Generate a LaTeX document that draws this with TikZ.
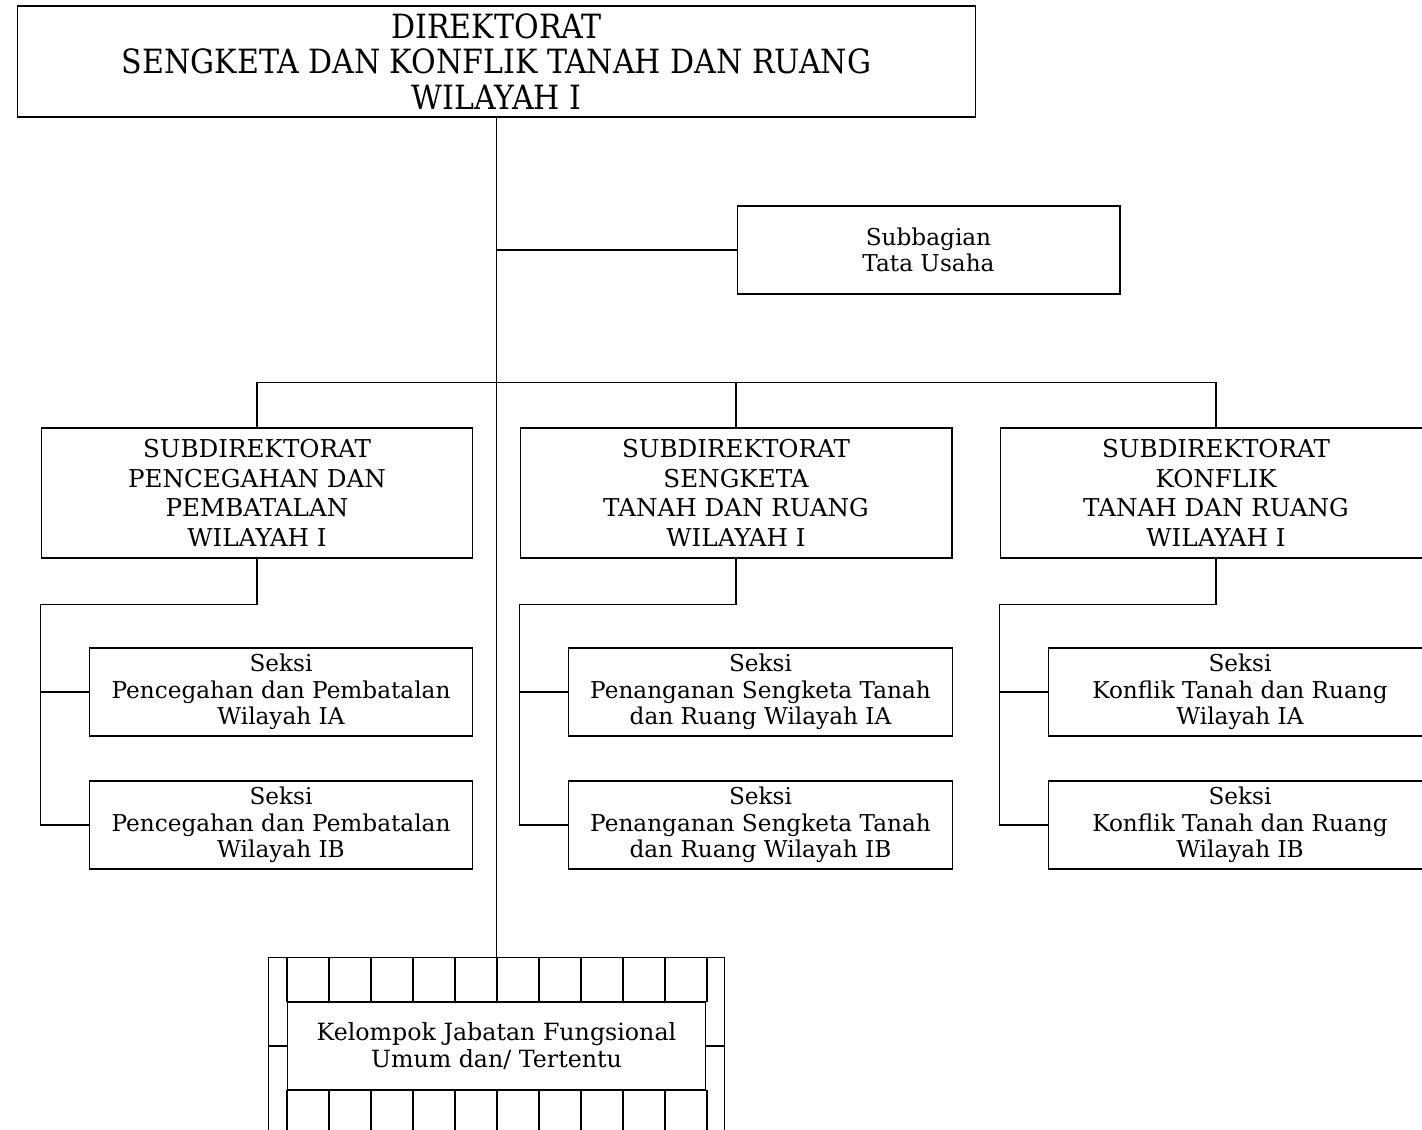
\documentclass[tikz,border=0pt]{standalone}
\usepackage{fontspec}
\setmainfont{DejaVu Serif}
\newfontfamily\judulfont{DejaVu Serif Condensed}

\tikzset{
	kotak/.style={draw, line width=0.6pt, align=center, inner sep=0pt},
	subdir/.style={kotak, minimum width=8.64cm, minimum height=2.6cm, font=\fontsize{14}{16.8}\selectfont},
	seksi/.style={kotak, minimum width=7.68cm, minimum height=1.76cm, font=\fontsize{13.2}{15}\selectfont},
	garis/.style={line width=0.6pt}
}

\begin{document}
\begin{tikzpicture}[x=0.02cm, y=-0.02cm]
		\useasboundingbox (0,0) rectangle (1422,1129);
		% direktorat dan subbagian
		\node[kotak, minimum width=19.18cm, minimum height=2.22cm, font=\judulfont\fontsize{19}{20}\selectfont] (direktorat) at (496.5,61.5) {DIREKTORAT\\SENGKETA DAN KONFLIK TANAH DAN RUANG\\WILAYAH I};
		\node[kotak, minimum width=7.66cm, minimum height=1.76cm, font=\fontsize{13.2}{15}\selectfont] (subbag) at (928.5,250) {Subbagian\\Tata Usaha};
		% kelompok jabatan fungsional dengan bingkai bergaris
		\node[kotak, minimum width=9.12cm, minimum height=3.56cm] (bingkai) at (496.5,1046) {};
		\node[kotak, fill=white, minimum width=8.38cm, minimum height=1.76cm, font=\fontsize{13.5}{15.3}\selectfont] (kelompok) at (496.5,1046) {Kelompok Jabatan Fungsional\\Umum dan/ Tertentu};
		\foreach \k in {0,...,10}{
			\draw[garis] (287+42*\k,957) -- (287+42*\k,1002);
			\draw[garis] (287+42*\k,1090) -- (287+42*\k,1135);
		};
		\draw[garis] (kelompok.west) -- (kelompok.west -| bingkai.west);
		\draw[garis] (kelompok.east) -- (kelompok.east -| bingkai.east);
		\draw[garis] (direktorat.south) -- (bingkai.north);
		\draw[garis] (subbag.west) -- (subbag.west -| direktorat.south);
		% subdirektorat dan seksi
		\foreach \i/\x/\xs/\judul/\sa/\sb in {%
			1/257/281/{SUBDIREKTORAT\\PENCEGAHAN DAN\\PEMBATALAN\\WILAYAH I}/{Seksi\\Pencegahan dan Pembatalan\\Wilayah IA}/{Seksi\\Pencegahan dan Pembatalan\\Wilayah IB},
			2/736/760.5/{SUBDIREKTORAT\\SENGKETA\\TANAH DAN RUANG\\WILAYAH I}/{Seksi\\Penanganan Sengketa Tanah\\dan Ruang Wilayah IA}/{Seksi\\Penanganan Sengketa Tanah\\dan Ruang Wilayah IB},
			3/1216/1240/{SUBDIREKTORAT\\KONFLIK\\TANAH DAN RUANG\\WILAYAH I}/{Seksi\\Konflik Tanah dan Ruang\\Wilayah IA}/{Seksi\\Konflik Tanah dan Ruang\\Wilayah IB}}%
		{
			\node[subdir] (sub\i) at (\x,493) {\judul};
			\node[seksi] (sa\i) at (\xs,692) {\sa};
			\node[seksi] (sb\i) at (\xs,825) {\sb};
			\draw[garis] (sub\i.south) -- ++(0,46) -| (sb\i.west -| sub\i.west) -- (sb\i.west);
			\draw[garis] (sa\i.west) -- (sa\i.west -| sub\i.west);
		};
		\draw[garis] (sub1.north) -- ++(0,-45) -| (sub3.north);
		\draw[garis] (sub2.north) -- ++(0,-45);
	\end{tikzpicture}
\end{document}
